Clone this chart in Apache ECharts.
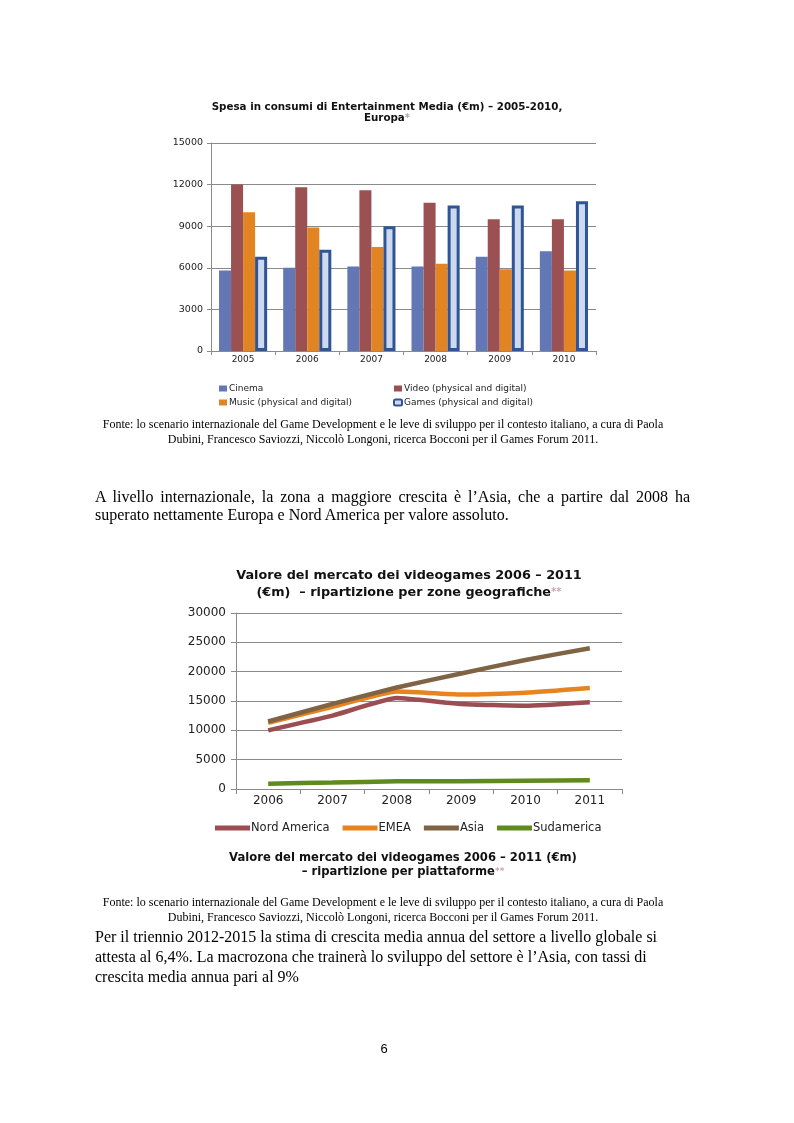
<!DOCTYPE html>
<html>
<head>
<meta charset="utf-8">
<script src="https://cdn.jsdelivr.net/npm/echarts@6/dist/echarts.min.js"></script>
<style>
  html, body { margin:0; padding:0; background:#fff; }
  #page { position:relative; width:794px; height:1123px; overflow:hidden; }
  #chart { position:absolute; left:0; top:0; width:794px; height:1123px; }
  .txt { position:absolute; font-family:"Liberation Serif","DejaVu Serif",serif; color:#000; z-index:2; }
</style>
</head>
<body>
<div id="page">
  <div id="chart"></div>
  <div class="txt" style="left:63px;top:417px;width:640px;font-size:12px;line-height:15px;text-align:center;">Fonte: lo scenario internazionale del Game Development e le leve di sviluppo per il contesto italiano, a cura di Paola<br>Dubini, Francesco Saviozzi, Niccolò Longoni, ricerca Bocconi per il Games Forum 2011.</div>
  <div class="txt" style="left:95px;top:488px;width:595px;font-size:16px;line-height:18px;text-align:justify;text-align-last:left;">A livello internazionale, la zona a maggiore crescita è l’Asia, che a partire dal 2008 ha superato nettamente Europa e Nord America per valore assoluto.</div>
  <div class="txt" style="left:63px;top:895px;width:640px;font-size:12px;line-height:15px;text-align:center;">Fonte: lo scenario internazionale del Game Development e le leve di sviluppo per il contesto italiano, a cura di Paola<br>Dubini, Francesco Saviozzi, Niccolò Longoni, ricerca Bocconi per il Games Forum 2011.</div>
  <div class="txt" style="left:95px;top:927px;width:640px;font-size:16px;line-height:20px;white-space:nowrap;">Per il triennio 2012-2015 la stima di crescita media annua del settore a livello globale si<br>attesta al 6,4%. La macrozona che trainerà lo sviluppo del settore è l’Asia, con tassi di<br>crescita media annua pari al 9%</div>
  <div class="txt" style="left:374px;top:1041px;width:20px;font-family:'Liberation Sans','DejaVu Sans',sans-serif;font-size:13px;line-height:16px;text-align:center;">6</div>
</div>
<script>
// ---------- Data ----------
const years1 = ['2005', '2006', '2007', '2008', '2009', '2010'];
const cinema = [5800, 6000, 6100, 6100, 6800, 7200];
const video = [12000, 11800, 11600, 10700, 9500, 9500];
const music = [10000, 8900, 7500, 6300, 5900, 5800];
const games = [6800, 7300, 9000, 10500, 10500, 10800];

const years2 = ['2006', '2007', '2008', '2009', '2010', '2011'];
const nordAmerica = [10000, 12500, 15500, 14500, 14200, 14800];
const emea = [11300, 14000, 16600, 16100, 16400, 17200];
const asia = [11500, 14500, 17300, 19700, 22000, 24000];
const sudamerica = [900, 1100, 1300, 1300, 1400, 1500];

const names1 = ['Cinema', 'Video (physical and digital)', 'Music (physical and digital)', 'Games (physical and digital)'];
const names2 = ['Nord America', 'EMEA', 'Asia', 'Sudamerica'];

// ---------- Chart ----------
const F = '"DejaVu Sans", "Liberation Sans", sans-serif';
const chart = echarts.init(document.getElementById('chart'), null, { renderer: 'canvas' });

const axisGray = '#8a8a8a';
const plain = v => String(v);

const option = {
  animation: false,
  backgroundColor: 'transparent',
  title: [
    {
      left: 382, top: 97, textAlign: 'center',
      text: 'Spesa in consumi di Entertainment Media (€m) – 2005-2010,\nEuropa{a|*}',
      textStyle: { fontFamily: F, fontSize: 10.3, fontWeight: 'bold', color: '#111', lineHeight: 11,
        rich: { a: { fontFamily: F, fontSize: 10, fontWeight: 'bold', color: '#aaa' } } }
    },
    {
      left: 404, top: 562, textAlign: 'center',
      text: 'Valore del mercato dei videogames 2006 – 2011\n(€m)  – ripartizione per zone geografiche{a|**}',
      textStyle: { fontFamily: F, fontSize: 12.8, fontWeight: 'bold', color: '#111', lineHeight: 17,
        rich: { a: { fontFamily: F, fontSize: 10, fontWeight: 'bold', color: '#c9a9a9' } } }
    },
    {
      left: 398, top: 846, textAlign: 'center',
      text: 'Valore del mercato dei videogames 2006 – 2011 (€m)\n– ripartizione per piattaforme{a|**}',
      textStyle: { fontFamily: F, fontSize: 11.6, fontWeight: 'bold', color: '#111', lineHeight: 14,
        rich: { a: { fontFamily: F, fontSize: 9, fontWeight: 'bold', color: '#c9a9a9' } } }
    }
  ],
  legend: [
    {
      left: 214, top: 379, orient: 'vertical', itemGap: 5,
      itemWidth: 8, itemHeight: 6, icon: 'rect',
      data: [names1[0], names1[2]],
      textStyle: { fontFamily: F, fontSize: 9, color: '#222', padding: [0, 0, 0, -3] }
    },
    {
      left: 388, top: 379, orient: 'vertical', itemGap: 5,
      itemWidth: 8, itemHeight: 6,
      data: [{ name: names1[1], icon: 'rect' }, { name: names1[3], icon: 'roundRect' }],
      textStyle: { fontFamily: F, fontSize: 9, color: '#222', padding: [0, 0, 0, -3] }
    },
    {
      left: 210, top: 817, orient: 'horizontal', itemGap: 13,
      itemWidth: 35, itemHeight: 5, icon: 'rect',
      data: names2,
      textStyle: { fontFamily: F, fontSize: 11.5, color: '#222', padding: [0, 0, 0, -4] }
    }
  ],
  grid: [
    { left: 211, top: 143, width: 385, height: 208 },
    { left: 236, top: 613, width: 386, height: 176 }
  ],
  xAxis: [
    {
      gridIndex: 0, type: 'category', data: years1,
      axisLine: { lineStyle: { color: axisGray } },
      axisTick: { show: true, length: 4, lineStyle: { color: axisGray } },
      axisLabel: { fontFamily: F, fontSize: 9, color: '#222', margin: 4 }
    },
    {
      gridIndex: 1, type: 'category', data: years2,
      axisLine: { lineStyle: { color: axisGray } },
      axisTick: { show: true, length: 5, lineStyle: { color: axisGray } },
      axisLabel: { fontFamily: F, fontSize: 12, color: '#222', margin: 6 }
    }
  ],
  yAxis: [
    {
      gridIndex: 0, type: 'value', min: 0, max: 15000, interval: 3000,
      axisLine: { show: true, lineStyle: { color: axisGray } },
      axisTick: { show: true, length: 4, lineStyle: { color: axisGray } },
      splitLine: { lineStyle: { color: axisGray, width: 1 } },
      axisLabel: { fontFamily: F, fontSize: 9.5, color: '#222', margin: 8, formatter: plain }
    },
    {
      gridIndex: 1, type: 'value', min: 0, max: 30000, interval: 5000,
      axisLine: { show: true, lineStyle: { color: axisGray } },
      axisTick: { show: true, length: 5, lineStyle: { color: axisGray } },
      splitLine: { lineStyle: { color: axisGray, width: 1 } },
      axisLabel: { fontFamily: F, fontSize: 12, color: '#222', margin: 10, formatter: plain }
    }
  ],
  series: [
    { name: names1[0], type: 'bar', xAxisIndex: 0, yAxisIndex: 0, data: cinema,
      barGap: '0%', barCategoryGap: '25%', itemStyle: { color: '#6277b3' } },
    { name: names1[1], type: 'bar', xAxisIndex: 0, yAxisIndex: 0, data: video,
      itemStyle: { color: '#9b5052' } },
    { name: names1[2], type: 'bar', xAxisIndex: 0, yAxisIndex: 0, data: music,
      itemStyle: { color: '#e38423' } },
    { name: names1[3], type: 'bar', xAxisIndex: 0, yAxisIndex: 0, data: games,
      itemStyle: { color: '#ccd9ee', borderColor: '#2e5596', borderWidth: 3 } },

    { name: names2[0], type: 'line', xAxisIndex: 1, yAxisIndex: 1, data: nordAmerica,
      symbol: 'none', smooth: 0.15, lineStyle: { width: 4.5, color: '#9b4d52' }, itemStyle: { color: '#9b4d52' } },
    { name: names2[1], type: 'line', xAxisIndex: 1, yAxisIndex: 1, data: emea,
      symbol: 'none', smooth: 0.15, lineStyle: { width: 4.5, color: '#e8841f' }, itemStyle: { color: '#e8841f' } },
    { name: names2[2], type: 'line', xAxisIndex: 1, yAxisIndex: 1, data: asia,
      symbol: 'none', smooth: 0.15, lineStyle: { width: 4.5, color: '#7f6345' }, itemStyle: { color: '#7f6345' } },
    { name: names2[3], type: 'line', xAxisIndex: 1, yAxisIndex: 1, data: sudamerica,
      symbol: 'none', smooth: 0.15, lineStyle: { width: 4.5, color: '#5f8a1e' }, itemStyle: { color: '#5f8a1e' } }
  ]
};
chart.setOption(option);
</script>
</body>
</html>
